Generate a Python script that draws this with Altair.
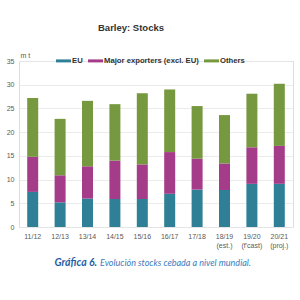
import altair as alt
import pandas as pd

seasons = ["11/12", "12/13", "13/14", "14/15", "15/16", "16/17", "17/18",
           "18/19 (est.)", "19/20 (f'cast)", "20/21 (proj.)"]
eu = [7.4, 5.2, 6.0, 5.9, 5.9, 7.0, 7.9, 7.8, 9.1, 9.1]
major = [7.4, 5.7, 6.8, 8.1, 7.3, 8.8, 6.5, 5.6, 7.7, 8.0]
others = [12.4, 11.9, 13.8, 11.9, 15.0, 13.2, 11.1, 10.2, 11.3, 13.1]
series = ["EU", "Major exporters (excl. EU)", "Others"]
colors = ["#2f7f97", "#a53c8a", "#76983f"]

rows = []
for i, s in enumerate(seasons):
    for k, (name, vals) in enumerate(zip(series, [eu, major, others])):
        rows.append({"season": s, "group": name, "value": vals[i], "ord": k})
df = pd.DataFrame(rows)

bars = alt.Chart(df).mark_bar(size=11).encode(
    x=alt.X("season:N", sort=seasons,
            scale=alt.Scale(paddingInner=0, paddingOuter=0),
            axis=alt.Axis(title=None, labelExpr="split(datum.label, ' ')",
                          labelAngle=0, labelFontSize=7, labelColor="#595959",
                          labelFont="Liberation Sans", labelPadding=5,
                          labelLineHeight=9, ticks=False, domain=False)),
    y=alt.Y("value:Q", stack="zero",
            scale=alt.Scale(domain=[0, 35]),
            axis=alt.Axis(values=[0, 5, 10, 15, 20, 25, 30, 35],
                          title="m t", titleAngle=0, titleX=1, titleY=-3,
                          titleAlign="left", titleBaseline="bottom",
                          titleFontSize=7, titleFontWeight="normal",
                          titleColor="#595959", titleFont="Liberation Sans",
                          labelFontSize=7, labelColor="#595959",
                          labelFont="Liberation Sans", labelPadding=5,
                          ticks=False, domain=False,
                          gridColor="#e6e6e6", gridWidth=0.8)),
    color=alt.Color("group:N",
                    scale=alt.Scale(domain=series, range=colors),
                    legend=alt.Legend(title=None, orient="none",
                                      legendX=37, legendY=-8,
                                      direction="horizontal", columns=3,
                                      symbolType="M-1,-0.2H1V0.2H-1Z",
                                      symbolSize=225, symbolStrokeWidth=0,
                                      labelFont="Liberation Sans",
                                      labelFontSize=7.7, labelFontWeight="bold",
                                      labelColor="#333333", labelOffset=1,
                                      columnPadding=5)),
    order=alt.Order("ord:Q", sort="ascending"),
)

cap1 = alt.Chart(pd.DataFrame({"t": ["Gráfica 6."]})).mark_text(
    align="right", baseline="middle", font="Lato", fontSize=10.5,
    fontStyle="italic", fontWeight="bold", color="#1f5fa8"
).encode(text="t:N", x=alt.value(78), y=alt.value(202))

cap2 = alt.Chart(pd.DataFrame({"t": ["Evolución stocks cebada a nivel mundial."]})).mark_text(
    align="left", baseline="middle", font="Lato", fontSize=9,
    fontStyle="italic", color="#3b7cc0"
).encode(text="t:N", x=alt.value(81), y=alt.value(202))

chart = alt.layer(bars, cap1, cap2).properties(
    width=274, height=166,
    title=alt.TitleParams("Barley: Stocks", anchor="middle", dx=-25,
                          offset=19, frame="group", fontSize=9.5,
                          font="Liberation Sans", fontWeight="bold",
                          color="#333333"),
    autosize=alt.AutoSizeParams(type="none"),
    padding={"left": 19, "top": 61, "right": 7, "bottom": 73},
).configure_view(stroke=None).configure(background="white")

chart.save("out.html", embed_options={"renderer": "svg", "actions": False})
